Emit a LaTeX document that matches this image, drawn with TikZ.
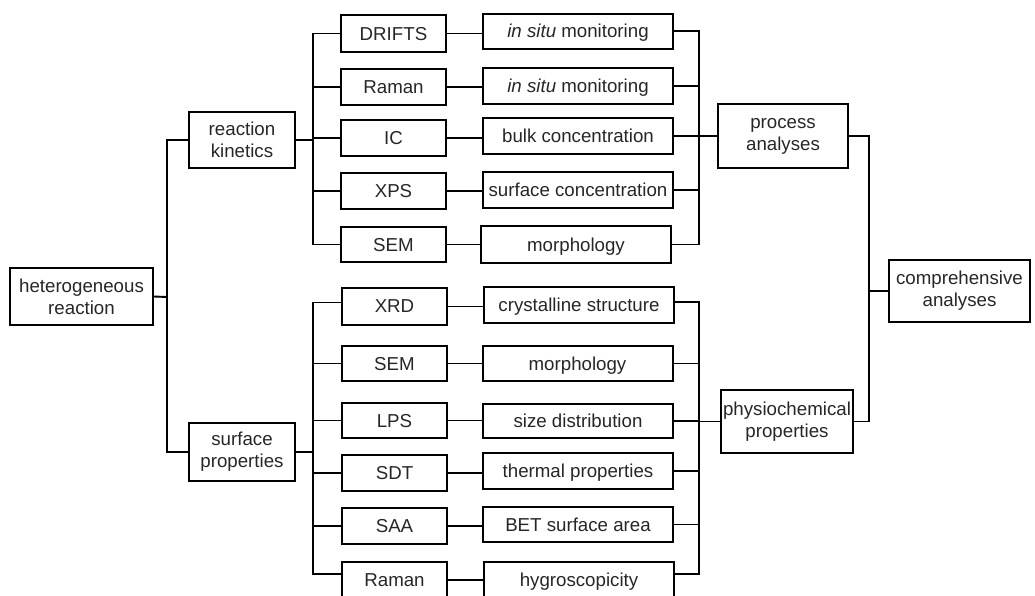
\documentclass[tikz,border=0pt]{standalone}
\usepackage{fontspec}
\setmainfont{Liberation Sans}
\begin{document}
\begin{tikzpicture}[x=1pt,y=-1pt,
  bx/.style={draw, line width=2pt, inner sep=0pt, align=center,
    font=\fontsize{18.7}{22}\selectfont, text=black!85},
  meth/.style={bx, minimum width=105pt, minimum height=36pt, text depth=0pt},
  res/.style={bx, minimum width=190pt, minimum height=36pt, text depth=0pt},
  conn/.style={line width=1.9pt},
]
\useasboundingbox (0,0) rectangle (1035,595);
% left
\node[bx, minimum width=143pt, minimum height=57pt] (het) at (81.5,296.5) {heterogeneous\\reaction};
\node[bx, minimum width=106pt, minimum height=56pt] (rk) at (242,140) {reaction\\kinetics};
\node[bx, minimum width=106pt, minimum height=58pt] (sp) at (242,452) {surface\\properties};
% methods
\node[meth, minimum height=37pt] (m1) at (393.5,33.5) {DRIFTS};
\node[meth] (m2) at (393.5,87) {Raman};
\node[meth] (m3) at (393.5,138) {IC};
\node[meth] (m4) at (393.5,191) {XPS};
\node[meth, minimum height=35pt] (m5) at (393.5,244.5) {SEM};
\node[meth, minimum height=37pt] (m6) at (394.5,306.5) {XRD};
\node[meth, minimum height=35pt] (m7) at (394.5,363.5) {SEM};
\node[meth, minimum height=35pt] (m8) at (394.5,420.5) {LPS};
\node[meth] (m9) at (394.5,473) {SDT};
\node[meth] (m10) at (394.5,526) {SAA};
\node[meth] (m11) at (394.5,580) {Raman};
% results
\node[res, minimum height=35pt] (r1) at (578,31) {\textit{in situ} monitoring};
\node[res] (r2) at (578,86) {\textit{in situ} monitoring};
\node[res] (r3) at (578,136) {bulk concentration};
\node[res] (r4) at (578,190) {surface concentration};
\node[res, minimum height=37pt] (r5) at (576,244.5) {morphology};
\node[res] (r6) at (579,305) {crystalline structure};
\node[res, minimum height=35pt] (r7) at (577.5,363.5) {morphology};
\node[res, minimum height=34pt] (r8) at (578,421) {size distribution};
\node[res] (r9) at (578,471) {thermal properties};
\node[res, minimum height=35pt] (r10) at (578,524.5) {BET surface area};
\node[res] (r11) at (579,580) {hygroscopicity};
% right
\node[bx, minimum width=130pt, minimum height=64pt] (pa) at (783,136) {process\\analyses};
\node[bx, minimum width=132pt, minimum height=63pt] (pc) at (787,421.5) {physiochemical\\properties};
\node[bx, minimum width=141pt, minimum height=62pt] (ca) at (959.5,291) {comprehensive\\analyses};
% junctions
\coordinate (j1) at (167,297);
\coordinate (j2) at (313,140);
\coordinate (j3) at (313,452);
\coordinate (j4) at (699,136);
\coordinate (j5) at (699,421.5);
\coordinate (j6) at (869,291);
% connectors left
\draw[conn] (het.east) -- (j1);
\draw[conn] (rk.west) -| (j1) |- (sp.west);
% top trunk
\draw[conn] (rk.east) -- (j2);
\draw[conn] (m1.west) -| (j2) |- (m5.west);
\foreach \m in {m2,m3,m4} \draw[conn] (j2 |- \m.west) -- (\m.west);
% bottom trunk
\draw[conn] (sp.east) -- (j3);
\draw[conn] ([yshift=4pt]m6.west) -| (j3) |- ([yshift=6pt]m11.west);
\foreach \m in {m7,m8,m9,m10} \draw[conn] (j3 |- \m.west) -- (\m.west);
% method to result
\foreach \a/\b in {m1/r1,m2/r2,m3/r3,m4/r4,m5/r5,m6/r6,m7/r7,m8/r8,m9/r9,m10/r10,m11/r11}
  \draw[conn] (\a.east) -- (\a.east -| \b.west);
% right trunks
\draw[conn] (r1.east) -| (j4) |- (r5.east);
\foreach \r in {r2,r3,r4} \draw[conn] (\r.east) -- (\r.east -| j4);
\draw[conn] (j4) -- (pa.west);
\draw[conn] ([yshift=3pt]r6.east) -| (j5) |- ([yshift=6pt]r11.east);
\foreach \r in {r7,r8,r9,r10} \draw[conn] (\r.east) -- (\r.east -| j5);
\draw[conn] (j5) -- (pc.west);
% final
\draw[conn] (pa.east) -| (j6) |- (pc.east);
\draw[conn] (j6) -- (ca.west);
\end{tikzpicture}
\end{document}
